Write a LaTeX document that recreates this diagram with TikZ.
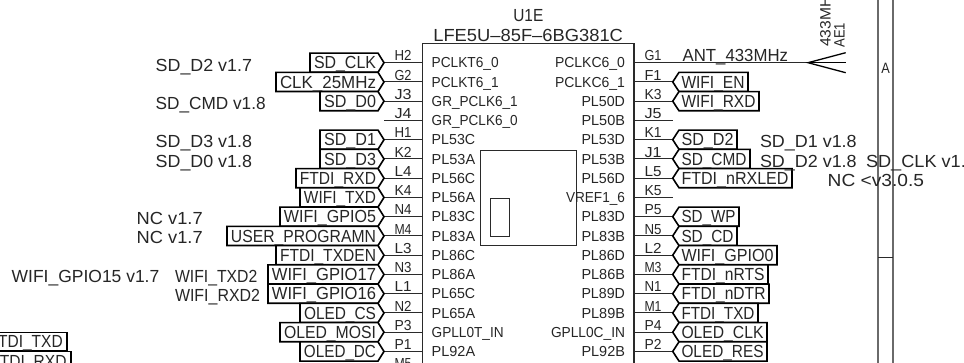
\documentclass[tikz,border=0pt]{standalone}
\usepackage{graphicx}
\usepackage{fontspec}
\setmainfont{Liberation Sans}
\newcommand\ft[3]{\resizebox{#1pt}{\height}{\fontsize{#2}{#2}\selectfont #3}}
\definecolor{wirec}{HTML}{2A2A2A}
\definecolor{railc}{HTML}{6A6A6A}
\tikzset{
  tx/.style={inner sep=0pt,outer sep=0pt,text=black!85},
  wirel/.style={draw=wirec,line width=0.9pt},
  chipl/.style={draw=wirec,line width=1.1pt},
  railline/.style={draw=railc,line width=1.8pt},
  labelbox/.style={draw=black,line width=1.6pt,line join=miter,fill=white},
}
\begin{document}
\begin{tikzpicture}[x=1pt,y=-1pt]
\useasboundingbox (0,0) rectangle (964,363);
\clip (0,0) rectangle (964,363);
\fill[white] (0,0) rectangle (964,363);
% chip
\coordinate (chipTL) at (422.7,43.7);
\coordinate (chipTR) at (634,43.7);
\coordinate (chipBL) at (422.7,370);
\coordinate (chipBR) at (634,370);
\draw[chipl] (chipBL) -- (chipTL) -- (chipTR) -- (chipBR);
\node[draw=wirec,line width=1pt,inner sep=0pt,minimum width=96pt,minimum height=95.3pt,anchor=north west] (core) at (480,149.7) {};
\node[draw=wirec,line width=1pt,inner sep=0pt,minimum width=19.8pt,minimum height=38pt,anchor=north west] (die) at (489.5,197.7) {};
% rails
\coordinate (railAt) at (878.3,-2);
\coordinate (railAb) at (878.3,365);
\coordinate (railBt) at (893.3,-2);
\coordinate (railBb) at (893.3,365);
\coordinate (railCl) at (878.3,257.3);
\coordinate (railCr) at (893.3,257.3);
\draw[railline] (railAt) -- (railAb);
\draw[railline] (railBt) -- (railBb);
\draw[wirel] (railCl) -- (railCr);
\node[tx,anchor=base] (zoneA) at (885.7,73.5) {\ft{8.5}{15}{A}};
% left pins
\foreach \i/\pn/\nm/\pw in {
 0/PCLKT6\_0/H2/67, 1/PCLKT6\_1/G2/67, 2/GR\_PCLK6\_1/J3/86, 3/GR\_PCLK6\_0/J4/86,
 4/PL53C/H1/43.5, 5/PL53A/K2/43.5, 6/PL56C/L4/43.5, 7/PL56A/K4/43.5,
 8/PL83C/N4/43.5, 9/PL83A/M4/43.5, 10/PL86C/L3/43.5, 11/PL86A/N3/43.5,
 12/PL65C/L1/43.5, 13/PL65A/N2/43.5, 14/GPLL0T\_IN/P3/72, 15/PL92A/P1/43.5}{
  \pgfmathsetmacro\yy{62.7+19.25*\i}
  \coordinate (lc\i) at (422.7,\yy);
  \coordinate (lt\i) at (384,\yy);
  \draw[wirel] (lc\i) -- (lt\i);
  \node[tx,anchor=base west] (lname\i) at (431.7,\yy+5.1) {\ft{\pw}{14.5}{\pn}};
  \node[tx,anchor=base] (lnum\i) at (403,\yy-1.7) {\ft{17}{14.5}{\nm}};
}
\coordinate (lc16) at (422.7,370.7);
\coordinate (lt16) at (384,370.7);
\draw[wirel] (lc16) -- (lt16);
\node[tx,anchor=base] (lnum16) at (403,369) {\ft{17}{14.5}{M5}};
% right pins
\foreach \i/\pn/\nm/\pw in {
 0/PCLKC6\_0/G1/70, 1/PCLKC6\_1/F1/70, 2/PL50D/K3/43.5, 3/PL50B/J5/43.5,
 4/PL53D/K1/43.5, 5/PL53B/J1/43.5, 6/PL56D/L5/43.5, 7/VREF1\_6/K5/59,
 8/PL83D/P5/43.5, 9/PL83B/N5/43.5, 10/PL86D/L2/43.5, 11/PL86B/M3/43.5,
 12/PL89D/N1/43.5, 13/PL89B/M1/43.5, 14/GPLL0C\_IN/P4/74, 15/PL92B/P2/43.5}{
  \pgfmathsetmacro\yy{62.7+19.25*\i}
  \coordinate (rc\i) at (634,\yy);
  \coordinate (rt\i) at (672.7,\yy);
  \draw[wirel] (rc\i) -- (rt\i);
  \node[tx,anchor=base east] (rname\i) at (625,\yy+5.1) {\ft{\pw}{14.5}{\pn}};
  \node[tx,anchor=base] (rnum\i) at (653,\yy-1.7) {\ft{17}{14.5}{\nm}};
}
% left labels
\foreach \i/\lab/\lx in {
 0/SD\_CLK/310, 1/CLK\_25MHz/276, 2/SD\_D0/320, 4/SD\_D1/320, 5/SD\_D3/320,
 6/FTDI\_RXD/296, 7/WIFI\_TXD/300, 8/WIFI\_GPIO5/280, 9/USER\_PROGRAMN/227,
 10/FTDI\_TXDEN/276, 11/WIFI\_GPIO17/268, 12/WIFI\_GPIO16/268, 13/OLED\_CS/300,
 14/OLED\_MOSI/280, 15/OLED\_DC/300}{
  \pgfmathsetmacro\yy{62.7+19.25*\i}
  \pgfmathsetmacro\bw{372-\lx}
  \draw[labelbox] (\lx,\yy-9.6) -- (378,\yy-9.6) -- (lt\i) -- (378,\yy+9.6) -- (\lx,\yy+9.6) -- cycle;
  \node[tx,anchor=base east] (llab\i) at (376,\yy+6.2) {\ft{\bw}{17.5}{\lab}};
}
% right labels
\foreach \i/\lab/\rx in {
 1/WIFI\_EN/748, 2/WIFI\_RXD/759, 4/SD\_D2/737, 5/SD\_CMD/750, 6/FTDI\_nRXLED/792,
 8/SD\_WP/739, 9/SD\_CD/737, 10/WIFI\_GPIO0/777, 11/FTDI\_nRTS/768, 12/FTDI\_nDTR/769,
 13/FTDI\_TXD/758, 14/OLED\_CLK/767, 15/OLED\_RES/767}{
  \pgfmathsetmacro\yy{62.7+19.25*\i}
  \pgfmathsetmacro\bw{\rx-685}
  \draw[labelbox] (\rx,\yy-9.6) -- (679,\yy-9.6) -- (rt\i) -- (679,\yy+9.6) -- (\rx,\yy+9.6) -- cycle;
  \node[tx,anchor=base west] (rlab\i) at (681.5,\yy+6.2) {\ft{\bw}{17.5}{\lab}};
}
% cut-off labels bottom left
\draw[labelbox] (-5,332.7) rectangle (66.7,350.7);
\node[tx,anchor=base east] (ftxd) at (62.7,348) {\ft{74}{17.5}{FTDI\_TXD}};
\draw[labelbox] (-5,351.7) rectangle (71,371);
\node[tx,anchor=base east] (frxd) at (66.5,367.2) {\ft{76}{17.5}{FTDI\_RXD}};
% free text
\foreach \px/\py/\pw/\ptext in {
 155.7/65/96.3/SD\_D2 v1.7, 155.7/103/110/SD\_CMD v1.8,
 155.7/141.7/96.3/SD\_D3 v1.8, 155.7/161/96.3/SD\_D0 v1.8,
 136.7/218.7/66/NC v1.7, 136.7/237.7/66/NC v1.7,
 11.7/276/147.6/WIFI\_GPIO15 v1.7, 175/276/82.3/WIFI\_TXD2, 175/295.3/85/WIFI\_RXD2,
 513.3/15.7/30/U1E, 433.3/35/189.7/LFE5U--85F--6BG381C,
 682.7/55/105.3/ANT\_433MHz,
 760/141.7/96.7/SD\_D1 v1.8, 760/161/96.7/SD\_D2 v1.8,
 866/161/110/SD\_CLK v1.8, 827.7/180.7/96.3/NC <v3.0.5}{
  \node[tx,anchor=base west] at (\px,\py+6.2) {\ft{\pw}{17.5}{\ptext}};
}
% antenna
\coordinate (antB) at (808,62.7);
\coordinate (antT1) at (845.7,52.7);
\coordinate (antT2) at (845.7,62.7);
\coordinate (antT3) at (845.7,72.7);
\draw[wirel] (rt0) -- (antB);
\draw[draw=black,line width=1.3pt] (antT1) -- (antB) -- (antT3);
\draw[draw=black,line width=1.3pt] (antB) -- (antT2);
\node[tx,anchor=base west,rotate=90] (antv) at (830.5,46.7) {\ft{58}{15}{433MHz}};
\node[tx,anchor=base west,rotate=90] (antr) at (844.5,47.7) {\ft{24.7}{15}{AE1}};
\end{tikzpicture}
\end{document}
